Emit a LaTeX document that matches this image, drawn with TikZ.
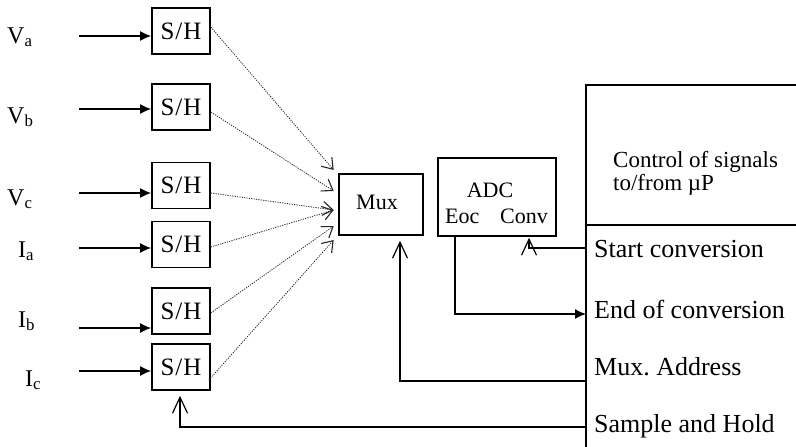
\documentclass[tikz,border=0pt]{standalone}
\usepackage{fontspec}
\setmainfont{Liberation Serif}
\usetikzlibrary{arrows.meta,calc}
\begin{document}
\begin{tikzpicture}[x=1pt,y=-1pt,
  shbox/.style={draw,line width=1.6pt,minimum width=58pt,minimum height=46pt,inner sep=0pt,font=\fontsize{25}{28}\selectfont},
  blk/.style={draw,line width=1.6pt,inner sep=0pt},
  lbl/.style={inner sep=0pt,anchor=base west,font=\fontsize{24}{27}\selectfont},
  rlbl/.style={inner sep=0pt,anchor=base west,font=\fontsize{26}{28}\selectfont},
  small/.style={inner sep=0pt,font=\fontsize{22}{25}\selectfont},
  inarrow/.style={line width=1.6pt,-{Latex[length=11pt,width=10pt]}},
  dotarrow/.style={line width=0.8pt,draw=black!85,dash pattern=on 1.2pt off 1.2pt,-{Straight Barb[length=10pt,width=14pt,line width=1.1pt]}},
  openarrow/.style={line width=1.5pt,-{Straight Barb[length=16pt,width=15pt,line width=1.2pt]}},
  plain/.style={line width=1.5pt}]
\useasboundingbox (0,0) rectangle (796,447);

% S/H boxes
\node[shbox] (sh1) at (181,31) {S\kern1pt/\kern1ptH};
\node[shbox] (sh2) at (181,107) {S\kern1pt/\kern1ptH};
\node[shbox] (sh3) at (181,185.5) {S\kern1pt/\kern1ptH};
\node[shbox] (sh4) at (181,244.5) {S\kern1pt/\kern1ptH};
\node[shbox] (sh5) at (181,311) {S\kern1pt/\kern1ptH};
\node[shbox] (sh6) at (181,367) {S\kern1pt/\kern1ptH};

% input labels
\node[lbl] (la) at (7,43) {V\textsubscript{a}};
\node[lbl] (lb) at (7,123) {V\textsubscript{b}};
\node[lbl] (lc) at (7,205) {V\textsubscript{c}};
\node[lbl] (li) at (18,257) {I\textsubscript{a}};
\node[lbl] (lj) at (18,327) {I\textsubscript{b}};
\node[lbl] (lk) at (25,386) {I\textsubscript{c}};

% input arrows
\coordinate (i1) at (79,36);
\coordinate (i2) at (79,109);
\coordinate (i3) at (79,193);
\coordinate (i4) at (79,248);
\coordinate (i5) at (79,328);
\coordinate (i6) at (79,371);
\draw[inarrow] (i1) -- (i1 -| sh1.west);
\draw[inarrow] (i2) -- (i2 -| sh2.west);
\draw[inarrow] (i3) -- (i3 -| sh3.west);
\draw[inarrow] (i4) -- (i4 -| sh4.west);
\draw[inarrow] (i5) -- (i5 -| sh5.west);
\draw[inarrow] (i6) -- (i6 -| sh6.west);

% Mux and ADC
\node[blk,minimum width=84pt,minimum height=61pt] (mux) at (381,204.5) {};
\node[small] (muxt) at (377,202) {Mux};
\node[blk,minimum width=118pt,minimum height=78pt] (adc) at (497,197) {};
\node[small] (adct) at (490,190) {ADC};
\node[small,anchor=base west] (eoct) at (445,223) {Eoc};
\node[small,anchor=base west] (convt) at (500,223) {Conv};

% dotted arrows into Mux
\draw[dotarrow] ([yshift=4pt]sh1.east) -- ([xshift=-4.5pt,yshift=34.5pt]mux.west);
\draw[dotarrow] ([yshift=-5pt]sh2.east) -- ([xshift=-4.5pt,yshift=13.5pt]mux.west);
\draw[dotarrow] ([yshift=-7.5pt]sh3.east) -- ([xshift=-4.5pt,yshift=-5.5pt]mux.west);
\draw[dotarrow] ([yshift=-2.5pt]sh4.east) -- ([xshift=-4.5pt,yshift=-5.5pt]mux.west);
\draw[dotarrow] ([yshift=-2pt]sh5.east) -- ([xshift=-4.5pt,yshift=-21.5pt]mux.west);
\draw[dotarrow] ([xshift=-2pt,yshift=-13pt]sh6.east) -- ([xshift=-4.5pt,yshift=-35.5pt]mux.west);

% right panel
\coordinate (ptr) at (796,85);
\coordinate (ptl) at (586,85);
\coordinate (pbl) at (586,447);
\coordinate (pdl) at (586,225);
\coordinate (pdr) at (796,225);
\draw[plain] (ptr) -- (ptl) -- (pbl);
\draw[plain] (pdl) -- (pdr);

\node[inner sep=0pt,anchor=base west,align=left,font=\fontsize{23}{20.5}\selectfont] (ctl) at (613,190) {Control of signals\\to/from µP};
\node[rlbl] (rs) at (594,257) {Start conversion};
\node[rlbl] (re) at (594,318) {End of conversion};
\node[rlbl] (rm) at (594,375) {Mux.\ Address};
\node[rlbl] (rh) at (594,432) {Sample and Hold};

% control connectors
\coordinate (pS) at (586,248);
\coordinate (pE) at (586,314);
\coordinate (pM) at (586,381);
\coordinate (pH) at (586,427);
\draw[openarrow] (pS) -| ([xshift=32pt,yshift=-1pt]adc.south);
\draw[plain,-{Latex[length=11pt,width=10pt]}] ([xshift=18pt]adc.south west) |- (pE);
\draw[openarrow] (pM) -| ([xshift=19pt,yshift=-5pt]mux.south);
\draw[openarrow] (pH) -| ([xshift=-1pt,yshift=-5pt]sh6.south);
\end{tikzpicture}
\end{document}
